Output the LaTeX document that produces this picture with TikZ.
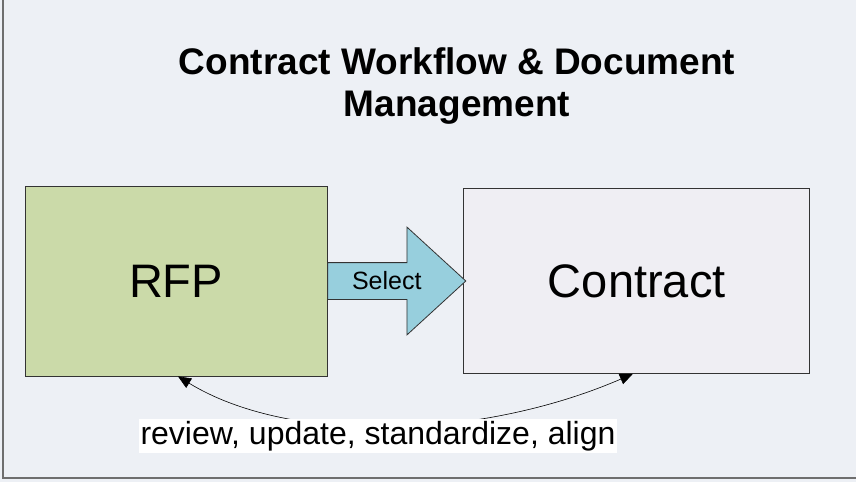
\documentclass[tikz,border=0pt]{standalone}
\usepackage{fontspec}
\setmainfont{Liberation Sans}
\usetikzlibrary{positioning,shapes.arrows,arrows.meta}

\definecolor{slidebg}{HTML}{EDF0F5}
\definecolor{rfpgreen}{HTML}{CBDAA9}
\definecolor{contractgray}{HTML}{EFEEF3}
\definecolor{selectblue}{HTML}{97CFDD}
\definecolor{framegray}{HTML}{6E6E6E}

\begin{document}
\begin{tikzpicture}[x=1pt,y=-1pt,auto,node distance=136pt,
  main node/.style={rectangle,draw=black!80,line width=0.8pt,
    font=\fontsize{47}{50}\selectfont,inner sep=0pt},
  sel arrow/.style={single arrow,draw=black!80,line width=0.8pt,fill=selectblue,
    font=\fontsize{25}{28}\selectfont,inner xsep=4pt,inner ysep=0pt,
    text height=26pt,text depth=10pt,single arrow head extend=35.5pt,
    single arrow tip angle=85,single arrow head indent=0pt,minimum height=138pt},
  loop arrow/.style={{Triangle[length=13pt,width=11pt]}-{Triangle[length=13pt,width=11pt]},
    line width=0.6pt}]

  \useasboundingbox[fill=slidebg] (0,0) rectangle (856,482);
  \draw[framegray,line width=1.5pt] (3,0) -- (3,478) -- (856,478);

  \node[font=\bfseries\fontsize{37}{42}\selectfont,align=center] (title) at (457,86)
    {Contract Workflow \& Document\\Management};

  \node[main node,fill=rfpgreen,minimum width=302pt,minimum height=190pt] (rfp) at (176,281) {RFP};
  \node[main node,fill=contractgray,minimum width=346pt,minimum height=185pt] (con) [right=of rfp] {Contract};

  \node[sel arrow,anchor=tail] (sel) at (rfp.east) {Select};

  \draw[loop arrow] ([xshift=2pt]rfp.south)
    .. controls (290,445) and (480,440) .. ([xshift=-4pt]con.south);

  \node[fill=white,inner sep=2pt,font=\fontsize{32}{34}\selectfont] (lbl) at (378,436)
    {review, update, standardize, align};

\end{tikzpicture}
\end{document}
